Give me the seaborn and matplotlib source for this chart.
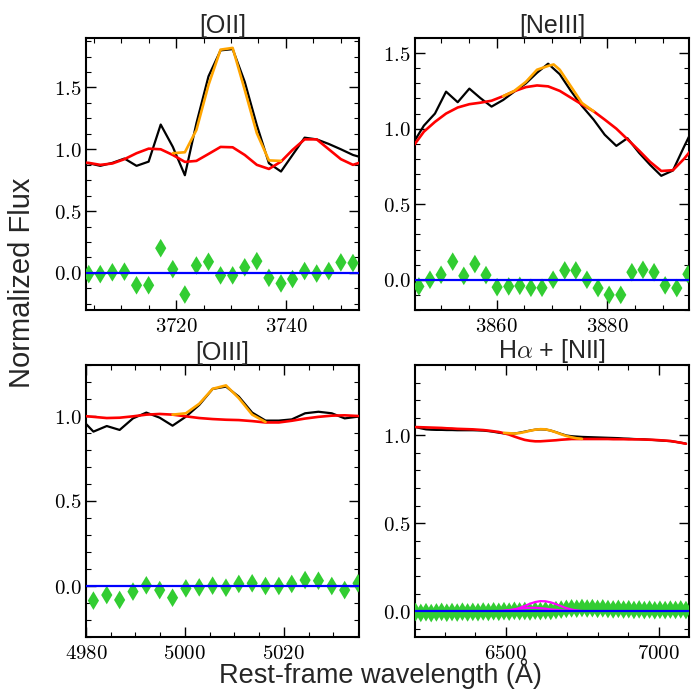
import numpy as np
import pandas as pd
import matplotlib
matplotlib.use("Agg")
import matplotlib.pyplot as plt
import seaborn as sns
from matplotlib.ticker import MultipleLocator, FuncFormatter

# ---------------- [OII] ----------------
oii_wave = [3701.9, 3704.1, 3706.2, 3708.4, 3710.6, 3712.8, 3715.0, 3717.2, 3719.4,
            3721.6, 3723.7, 3725.9, 3728.1, 3730.3, 3732.5, 3734.7, 3736.9, 3739.1,
            3741.2, 3743.4, 3745.6, 3747.8, 3750.0, 3752.2, 3754.4]
oii_flux = [0.89, 0.887, 0.866, 0.89, 0.925, 0.866, 0.90, 1.20, 1.02, 0.79, 1.21, 1.59,
            1.80, 1.81, 1.545, 1.195, 0.887, 0.82, 0.954, 1.094, 1.08, 1.043, 1.0,
            0.954, 0.926]
oii_cont = [0.895, 0.89, 0.874, 0.885, 0.92, 0.968, 1.005, 1.0, 0.954, 0.898, 0.906,
            0.962, 1.019, 1.016, 0.954, 0.874, 0.841, 0.90, 0.995, 1.08, 1.08, 1.0,
            0.92, 0.874, 0.905]
oii_fit_wave = [3719.4, 3721.6, 3723.7, 3725.9, 3728.1, 3730.3, 3732.5, 3734.7, 3736.9, 3739.1]
oii_fit = [0.968, 0.976, 1.156, 1.52, 1.806, 1.82, 1.48, 1.13, 0.91, 0.906]
oii_res_wave = oii_wave[1:24]
oii_res = [-0.01, -0.01, 0.005, 0.01, -0.10, -0.10, 0.20, 0.03, -0.175, 0.06, 0.09,
           -0.02, -0.02, 0.045, 0.095, -0.04, -0.085, -0.05, 0.015, -0.005, 0.015,
           0.085, 0.08]

# ---------------- [NeIII] ----------------
ne_wave = [3844.9, 3846.9, 3848.9, 3850.9, 3853.0, 3855.1, 3857.1, 3859.1, 3861.2,
           3863.2, 3865.3, 3867.3, 3869.3, 3871.4, 3873.4, 3875.4, 3877.5, 3879.5,
           3881.6, 3883.6, 3885.7, 3887.7, 3889.7, 3891.8, 3893.8, 3895.8]
ne_flux = [0.90, 1.02, 1.10, 1.245, 1.175, 1.265, 1.202, 1.146, 1.19, 1.245, 1.30, 1.37,
           1.43, 1.36, 1.25, 1.15, 1.06, 0.96, 0.886, 0.937, 0.84, 0.76, 0.688, 0.723,
           0.88, 1.03]
ne_cont = [0.88, 0.98, 1.045, 1.10, 1.14, 1.162, 1.172, 1.185, 1.215, 1.248, 1.275,
           1.286, 1.280, 1.25, 1.205, 1.16, 1.115, 1.06, 1.00, 0.93, 0.855, 0.78, 0.72,
           0.725, 0.80, 0.89]
ne_fit_wave = [3861.2, 3863.2, 3865.3, 3867.3, 3869.3, 3870.3, 3871.4, 3873.4, 3875.4, 3877.5]
ne_fit = [1.215, 1.25, 1.31, 1.39, 1.415, 1.425, 1.39, 1.28, 1.17, 1.115]
ne_res_wave = [3846.0, 3848.0, 3850.0, 3852.1, 3854.1, 3856.1, 3858.1, 3860.1, 3862.2,
               3864.2, 3866.2, 3868.2, 3870.2, 3872.3, 3874.3, 3876.3, 3878.3, 3880.3,
               3882.4, 3884.4, 3886.4, 3888.4, 3890.4, 3892.5, 3894.5]
ne_res = [-0.044, 0.0, 0.033, 0.12, 0.026, 0.104, 0.031, -0.049, -0.044, -0.04, -0.053,
          -0.053, 0.0, 0.062, 0.062, 0.0, -0.055, -0.1, -0.1, 0.05, 0.066, 0.05, -0.037,
          -0.055, 0.037]

# ---------------- [OIII] ----------------
oiii_wave = [4978.8, 4981.5, 4984.2, 4986.8, 4989.5, 4992.2, 4994.9, 4997.5, 5000.2,
             5002.9, 5005.6, 5008.3, 5010.9, 5013.6, 5016.3, 5019.0, 5021.6, 5024.3,
             5027.0, 5029.7, 5032.3, 5035.0]
oiii_flux = [0.99, 0.908, 0.941, 0.918, 0.986, 1.02, 0.99, 0.943, 0.996, 1.065, 1.159,
             1.173, 1.114, 1.02, 0.973, 0.973, 0.98, 1.016, 1.025, 1.016, 0.986, 0.996]
oiii_cont = [1.002, 0.995, 0.988, 0.99, 0.998, 1.008, 1.012, 1.008, 0.998, 0.988, 0.982,
             0.978, 0.976, 0.97, 0.962, 0.962, 0.972, 0.985, 0.995, 1.002, 1.004, 1.0]
oiii_fit_wave = [4997.5, 5000.2, 5002.9, 5005.6, 5008.3, 5010.9, 5013.6, 5016.3]
oiii_fit = [1.008, 1.016, 1.072, 1.16, 1.18, 1.105, 1.008, 0.965]
oiii_res_wave = oiii_wave[1:]
oiii_res = [-0.086, -0.053, -0.082, -0.033, 0.004, -0.024, -0.069, -0.014, -0.008, 0.002,
            -0.01, 0.012, 0.016, 0.0, 0.0, 0.012, 0.035, 0.031, 0.0, -0.024, 0.016]

# ---------------- H-alpha + [NII] ----------------
ha_wave = [6205, 6222, 6239, 6256, 6273, 6290, 6307, 6324, 6341, 6358, 6375, 6392, 6409,
           6426, 6443, 6460, 6477, 6494, 6511, 6528, 6545, 6562, 6579, 6596, 6613, 6630,
           6647, 6664, 6681, 6698, 6715, 6732, 6749, 6766, 6783, 6800, 6817, 6834, 6851,
           6868, 6885, 6902, 6919, 6936, 6953, 6970, 6987, 7004, 7021, 7038, 7055, 7072,
           7089]
ha_flux = [1.047, 1.040, 1.034, 1.032, 1.031, 1.031, 1.030, 1.030, 1.029, 1.029, 1.029,
           1.029, 1.028, 1.027, 1.024, 1.020, 1.015, 1.011, 1.009, 1.010, 1.015, 1.021,
           1.027, 1.032, 1.034, 1.033, 1.027, 1.018, 1.008, 0.999, 0.995, 0.993, 0.991,
           0.990, 0.989, 0.988, 0.987, 0.986, 0.985, 0.984, 0.982, 0.981, 0.979, 0.978,
           0.977, 0.975, 0.973, 0.971, 0.969, 0.967, 0.963, 0.958, 0.953]
ha_cont = [1.047, 1.046, 1.045, 1.044, 1.043, 1.042, 1.040, 1.039, 1.037, 1.036, 1.035,
           1.034, 1.032, 1.030, 1.027, 1.023, 1.019, 1.012, 1.004, 0.993, 0.983, 0.974,
           0.969, 0.966, 0.966, 0.968, 0.970, 0.972, 0.975, 0.977, 0.979, 0.979, 0.979,
           0.979, 0.979, 0.979, 0.979, 0.979, 0.978, 0.978, 0.978, 0.977, 0.977, 0.977,
           0.976, 0.975, 0.974, 0.972, 0.970, 0.968, 0.963, 0.958, 0.952]
ha_fit_wave = [6494, 6511, 6528, 6545, 6562, 6579, 6596, 6613, 6630, 6647, 6664, 6681,
               6698, 6715, 6732, 6749]
ha_fit = [1.014, 1.012, 1.010, 1.013, 1.019, 1.026, 1.032, 1.035, 1.034, 1.027, 1.017,
          1.006, 0.996, 0.989, 0.983, 0.980]
ha_line_wave = ha_fit_wave
ha_line = [0.001, 0.004, 0.009, 0.018, 0.030, 0.042, 0.052, 0.057, 0.056, 0.050, 0.040,
           0.028, 0.017, 0.009, 0.004, 0.001]
nii_line_wave = [6477, 6494, 6511, 6528, 6545, 6562, 6579, 6596, 6613, 6630, 6647, 6664,
                 6681, 6698, 6715]
nii_line = [0.001, 0.003, 0.006, 0.010, 0.014, 0.017, 0.019, 0.019, 0.017, 0.014, 0.010,
            0.007, 0.004, 0.002, 0.001]
ha_res = [-0.005, -0.010, -0.006, -0.011, -0.007, -0.004, -0.009, -0.005, -0.008, -0.003,
          -0.007, -0.004, -0.006, -0.002, -0.005, -0.001, -0.004, 0.000, -0.003, 0.002,
          -0.001, 0.001, -0.002, 0.003, 0.000, 0.004, 0.001, 0.006, 0.009, 0.013,
          0.016, 0.014, 0.018, 0.015, 0.017, 0.013, 0.016, 0.012, 0.010, 0.013,
          0.009, 0.011, 0.007, 0.010, 0.006, 0.009, 0.005, 0.008, 0.006, 0.009,
          0.007, 0.010, 0.006]

titles = ["[OII]", "[NeIII]", "[OIII]", r"H$\alpha$ + [NII]"]
baseline = 0.0

sns.set_style("ticks")
plt.rcParams["font.family"] = ["Liberation Sans", "DejaVu Sans"]
plt.rcParams["mathtext.fontset"] = "cm"

fig = plt.figure(figsize=(6.92, 6.89), dpi=100)
W, H = 692.0, 689.0
boxes = [(86, 38, 359, 310), (415, 38, 689, 310), (86, 365, 359, 637), (415, 365, 689, 637)]
axes = [fig.add_axes([l / W, 1 - b / H, (r - l) / W, (b - t) / H]) for (l, t, r, b) in boxes]

panels = [
    dict(w=oii_wave, f=oii_flux, c=oii_cont, fw=oii_fit_wave, fit=oii_fit,
         rw=oii_res_wave, r=oii_res, xlim=(3703.6, 3753.3), ylim=(-0.3, 1.9),
         xmaj=20, xmin=5, ymaj=0.5, ymin=0.125),
    dict(w=ne_wave, f=ne_flux, c=ne_cont, fw=ne_fit_wave, fit=ne_fit,
         rw=ne_res_wave, r=ne_res, xlim=(3845.3, 3894.7), ylim=(-0.2, 1.6),
         xmaj=20, xmin=5, ymaj=0.5, ymin=0.1),
    dict(w=oiii_wave, f=oiii_flux, c=oiii_cont, fw=oiii_fit_wave, fit=oiii_fit,
         rw=oiii_res_wave, r=oiii_res, xlim=(4980, 5035.2), ylim=(-0.3, 1.3),
         xmaj=20, xmin=5, ymaj=0.5, ymin=0.1),
    dict(w=ha_wave, f=ha_flux, c=ha_cont, fw=ha_fit_wave, fit=ha_fit,
         rw=ha_wave, r=ha_res, xlim=(6203, 7099), ylim=(-0.147, 1.4),
         xmaj=500, xmin=100, ymaj=0.5, ymin=0.1),
]

for k, (ax, p) in enumerate(zip(axes, panels)):
    sns.lineplot(x=p["w"], y=p["f"], ax=ax, color="black", lw=1.6, sort=False,
                 estimator=None, legend=False, zorder=2)
    sns.lineplot(x=p["w"], y=p["c"], ax=ax, color="red", lw=1.9, sort=False,
                 estimator=None, legend=False, zorder=3)
    sns.lineplot(x=p["fw"], y=p["fit"], ax=ax, color="orange", lw=1.9, sort=False,
                 estimator=None, legend=False, zorder=4)
    sns.scatterplot(x=p["rw"], y=p["r"], ax=ax, marker="d", s=90, color="limegreen",
                    edgecolor="none", linewidth=0, legend=False, zorder=5)
    if k == 3:
        sns.lineplot(x=ha_line_wave, y=ha_line, ax=ax, color="magenta", lw=1.6,
                     sort=False, estimator=None, legend=False, zorder=6)
        sns.lineplot(x=nii_line_wave, y=nii_line, ax=ax, color="magenta", lw=1.6,
                     sort=False, estimator=None, legend=False, zorder=6)
    ax.axhline(baseline, color="blue", lw=1.6, zorder=7)

    ax.set_xlim(*p["xlim"])
    ax.set_ylim(*p["ylim"])
    ax.xaxis.set_major_locator(MultipleLocator(p["xmaj"]))
    ax.xaxis.set_minor_locator(MultipleLocator(p["xmin"]))
    ax.yaxis.set_major_locator(MultipleLocator(p["ymaj"]))
    ax.yaxis.set_minor_locator(MultipleLocator(p["ymin"]))
    ax.xaxis.set_major_formatter(FuncFormatter(lambda v, pos: r"$%d$" % round(v)))
    ax.yaxis.set_major_formatter(FuncFormatter(lambda v, pos: r"$%.1f$" % v))
    ax.tick_params(which="both", direction="in", top=True, right=True,
                   labelsize=15, colors="black")
    ax.tick_params(which="major", length=7, width=1.0)
    ax.tick_params(which="minor", length=3.5, width=0.8)
    ax.tick_params(axis="x", pad=5)
    ax.tick_params(axis="y", pad=3)
    for s in ax.spines.values():
        s.set_linewidth(1.5)
        s.set_color("black")
    ax.set_xlabel("")
    ax.set_ylabel("")
    ax.set_title(titles[k], fontsize=18, pad=3)

fig.text(0.032, 0.589, "Normalized Flux", rotation=90, ha="center", va="center",
         fontsize=21)
fig.text(0.550, 1 - 683.0 / H, "Rest-frame wavelength (Å)", ha="center",
         va="baseline", fontsize=19.5)

fig.savefig("out.png", dpi=100)
